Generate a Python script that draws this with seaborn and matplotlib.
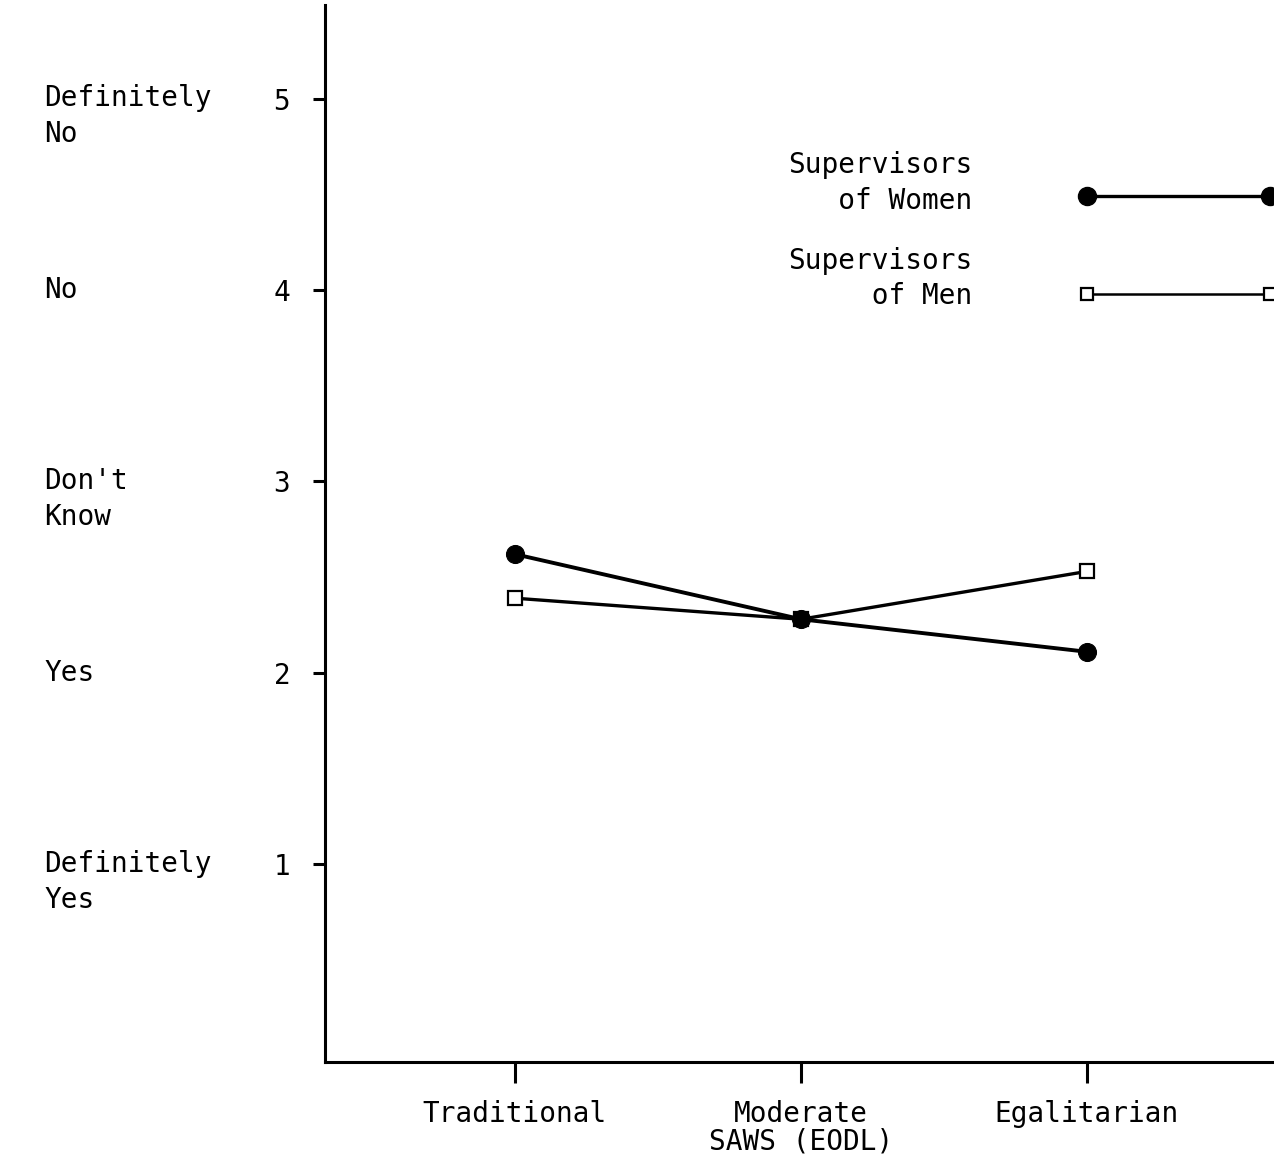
import matplotlib
matplotlib.use("Agg")
import matplotlib.pyplot as plt
import matplotlib.transforms as mtransforms
import seaborn as sns
import pandas as pd

# Mean responses by SAWS (EODL) group, 1 = Definitely Yes ... 5 = Definitely No
categories = ["Traditional", "Moderate\nSAWS (EODL)", "Egalitarian"]
supervisors_of_women = [2.62, 2.28, 2.11]
supervisors_of_men = [2.39, 2.28, 2.53]

y_ticks = [1, 2, 3, 4, 5]
y_answers = ["Definitely\nYes", "Yes", "Don't\nKnow", "No", "Definitely\nNo"]

series_labels = ["Supervisors\n   of Women", "Supervisors\n     of Men"]

sns.set_theme(style="white")
plt.rcParams["font.family"] = ["DejaVu Sans Mono", "DejaVu Sans"]
plt.rcParams["font.size"] = 20
plt.rcParams["text.color"] = "black"
plt.rcParams["xtick.color"] = "black"
plt.rcParams["ytick.color"] = "black"

fig = plt.figure(figsize=(12.74, 11.64), dpi=100)
ax = fig.add_axes([0.2551, 0.0876, 0.7449, 0.9081])

xpos = list(range(len(categories)))
df = pd.DataFrame({
    "pos": xpos * 2,
    "score": supervisors_of_men + supervisors_of_women,
    "group": ["men"] * 3 + ["women"] * 3,
})

men = df[df["group"] == "men"]
women = df[df["group"] == "women"]

sns.lineplot(data=men, x="pos", y="score", sort=False, ax=ax, color="black",
             linewidth=2.4, marker="s", markersize=10, markerfacecolor="white",
             markeredgecolor="black", markeredgewidth=1.6, zorder=3)
sns.lineplot(data=women, x="pos", y="score", sort=False, ax=ax, color="black",
             linewidth=2.8, marker="o", markersize=13, markerfacecolor="black",
             markeredgecolor="black", zorder=4)

# Key: sample lines to the right of the labels
key_x = [2.0, 2.64]
ax.plot(key_x, [4.49, 4.49], color="black", linewidth=2.4, marker="o",
        markersize=13, clip_on=False, zorder=4)
ax.plot(key_x, [3.98, 3.98], color="black", linewidth=1.8, marker="s",
        markersize=9, markerfacecolor="white", markeredgewidth=1.6,
        clip_on=False, zorder=4)
ax.text(1.60, 4.56, series_labels[0], ha="right", va="center",
        multialignment="left", fontsize=20, linespacing=1.35)
ax.text(1.60, 4.06, series_labels[1], ha="right", va="center",
        multialignment="left", fontsize=20, linespacing=1.35)

ax.set_xlim(-0.664, 2.654)
ax.set_ylim(-0.034, 5.49)

ax.set_xticks(xpos)
ax.set_xticklabels(categories, fontsize=20, linespacing=1.0)
ax.set_yticks(y_ticks)
ax.set_yticklabels([str(v) for v in y_ticks], fontsize=20)
ax.set_xlabel("")
ax.set_ylabel("")

ax.tick_params(axis="x", direction="out", length=15, width=2.2, pad=12,
               bottom=True, colors="black")
ax.tick_params(axis="y", direction="out", length=9, width=2.2, pad=16,
               left=True, colors="black")

for side in ["top", "right"]:
    ax.spines[side].set_visible(False)
for side in ["left", "bottom"]:
    ax.spines[side].set_color("black")
    ax.spines[side].set_linewidth(2.2)

# Verbal anchors for the response scale
trans = mtransforms.blended_transform_factory(fig.transFigure, ax.transData)
for val, txt in zip(y_ticks, y_answers):
    if "\n" in txt:
        ax.text(0.035, val + 0.075, txt, transform=trans, ha="left", va="top",
                fontsize=20, linespacing=1.35)
    else:
        ax.text(0.035, val, txt, transform=trans, ha="left", va="center",
                fontsize=20)

fig.savefig("out.png", dpi=100, facecolor="white")
